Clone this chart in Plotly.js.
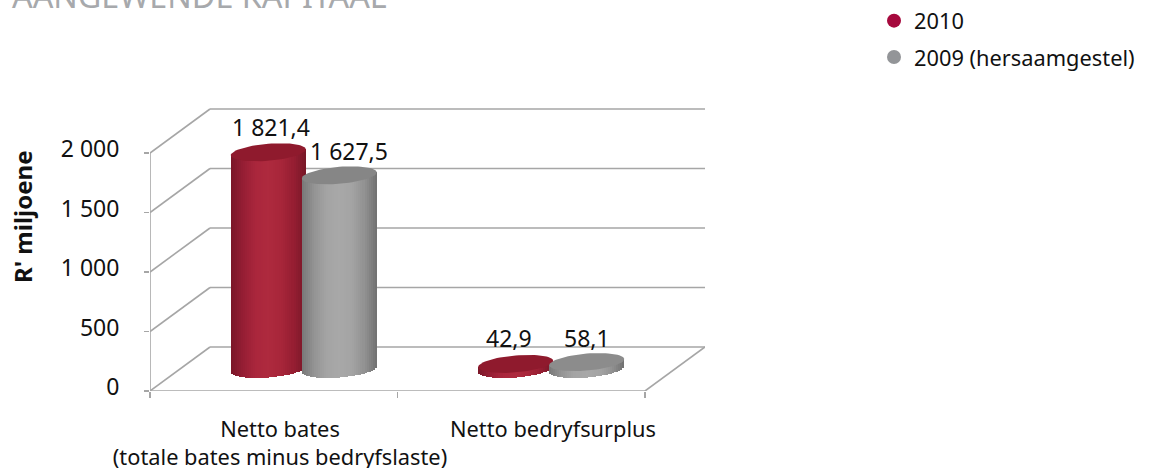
<!DOCTYPE html>
<html><head><meta charset="utf-8">
<script src="https://cdn.plot.ly/plotly-3.0.1.min.js"></script>
<style>html,body{margin:0;padding:0;background:#fff;overflow:hidden}</style>
</head><body><div id="chart" style="width:1151px;height:468px"></div>
<script>
// --- data ---
const categories = ["Netto bates<br>(totale bates minus bedryfslaste)", "Netto bedryfsurplus"];
const seriesNames = ["2010", "2009 (hersaamgestel)"];
const values2010 = [1821.4, 42.9];
const values2009 = [1627.5, 58.1];
const yTicks = [0, 500, 1000, 1500, 2000];
const yTickText = ["0", "500", "1 000", "1 500", "2 000"];

// --- page geometry (px) ---
const W = 1151, H = 468;
const plot = {l: 150, r: 705, t: 107, b: 391};
const pxPerCat = 247.5, pxPerUnit = 0.119;
const depth = {x: 60, y: 44};
const mid = {x: 30, y: 22};
const cyl = {a: 37.5 / pxPerCat, b: 8.5 / pxPerUnit, tilt: 3 / pxPerUnit, off: 0.1434};
const strips = 37;

const xMax = (plot.r - plot.l) / pxPerCat;
const yMax = (plot.b - plot.t) / pxPerUnit;
const dx = depth.x / pxPerCat, dy = depth.y / pxPerUnit;
const mx = mid.x / pxPerCat, my = mid.y / pxPerUnit;

function lerp(a, b, t) { return a.map((v, i) => Math.round(v + (b[i] - v) * t)); }
function shade(stops, u) {
  const p = (u + 1) / 2 * (stops.length - 1);
  const i = Math.min(Math.floor(p), stops.length - 2);
  const c = lerp(stops[i], stops[i + 1], p - i);
  return `rgb(${c[0]},${c[1]},${c[2]})`;
}
const redStops = [[122,22,40],[150,30,52],[170,38,60],[174,42,62],[168,38,58],[150,30,50],[118,22,38]];
const greyStops = [[120,120,120],[148,148,148],[164,164,164],[168,168,168],[164,164,164],[146,146,146],[112,112,112]];

function cylinderBars(vals, sign, stops, name) {
  const x = [], y = [], base = [], color = [];
  vals.forEach((v, c) => {
    for (let i = 0; i < strips; i++) {
      const u = -1 + (2 * i + 1) / strips;
      const b = cyl.tilt * u - cyl.b * Math.sqrt(1 - u * u);
      x.push(c + 0.5 + sign * cyl.off + u * cyl.a);
      base.push(b);
      y.push(v + cyl.tilt * u - b);
      color.push(shade(stops, u));
    }
  });
  return {type: "bar", x, y, base, width: 2 * cyl.a / strips * 1.08, xaxis: "x2", yaxis: "y2",
    marker: {color, line: {width: 0}}, showlegend: false, hoverinfo: "skip", name};
}
function cylinderTop(v, c, sign, color) {
  const x = [], y = [];
  for (let i = 0; i <= 72; i++) {
    const t = i / 72 * 2 * Math.PI;
    x.push(c + 0.5 + sign * cyl.off + Math.cos(t) * cyl.a);
    y.push(v + Math.sin(t) * cyl.b + Math.cos(t) * cyl.tilt);
  }
  return {type: "scatter", mode: "lines", x, y, xaxis: "x2", yaxis: "y2", fill: "toself",
    fillcolor: color, line: {width: 0, color}, showlegend: false, hoverinfo: "skip"};
}
const fmt = v => {
  const [i, d] = v.toFixed(1).split(".");
  return i.replace(/\B(?=(\d{3})+$)/g, " ") + "," + d;
};

const traces = [
  cylinderBars(values2010, -1, redStops, seriesNames[0]),
  cylinderBars(values2009, 1, greyStops, seriesNames[1]),
  cylinderTop(values2010[0], 0, -1, "#8f1a2d"),
  cylinderTop(values2010[1], 1, -1, "#8f1a2d"),
  cylinderTop(values2009[0], 0, 1, "#868686"),
  cylinderTop(values2009[1], 1, 1, "#8c8c8c"),
  {type: "scatter", mode: "markers", x: [null], y: [null], name: seriesNames[0], legendgroup: "a",
   marker: {color: "#a6093d", size: 14, symbol: "circle"}},
  {type: "scatter", mode: "markers", x: [null], y: [null], name: seriesNames[1], legendgroup: "b",
   marker: {color: "#939598", size: 14, symbol: "circle"}},
  // invisible helper so the category labels sit on their own axis
  {type: "scatter", mode: "none", x: [0], y: [0], xaxis: "x3", yaxis: "y", showlegend: false, hoverinfo: "skip"}
];

// --- wall and floor lines ---
const wall = "#a6a6a6";
const ln = (x0, y0, x1, y1) => ({type: "line", xref: "x", yref: "y", x0, y0, x1, y1, layer: "below",
  line: {color: wall, width: 1.6}});
const shapes = [ln(0, 0, 0, 2000), ln(0, 0, 2, 0), ln(2, 0, 2 + dx, dy)];
yTicks.forEach(t => {
  shapes.push(ln(0, t, dx, t + dy));
  shapes.push(ln(dx, t + dy, 2 + dx, t + dy));
});

// --- value labels ---
const labelNudge = {x: [[3, -7], [10, 0]], y: [[25, 26], [24, 24]]};
const annotations = [];
[values2010, values2009].forEach((vals, s) => vals.forEach((v, c) => {
  annotations.push({xref: "x2", yref: "y2", x: c + 0.5 + (s ? 1 : -1) * cyl.off, y: v,
    xshift: labelNudge.x[s][c], yshift: labelNudge.y[s][c], text: fmt(v), showarrow: false,
    xanchor: "center", yanchor: "middle", font: {size: 23, color: "#111"}});
}));
annotations.push({xref: "paper", yref: "paper", x: 22 / W, y: (H - 217) / H, text: "<b>R' miljoene</b>",
  textangle: -90, showarrow: false, xanchor: "center", yanchor: "middle", font: {size: 24, color: "#111"}});

const xDom = [plot.l / W, plot.r / W];
const yDom = [(H - plot.b) / H, (H - plot.t) / H];
const layout = {
  width: W, height: H, margin: {l: 0, r: 0, t: 0, b: 0},
  paper_bgcolor: "#fff", plot_bgcolor: "#fff",
  font: {family: '"Noto Sans", sans-serif', size: 22, color: "#111"},
  title: {text: "AANGEWENDE KAPITAAL<br> ", x: 12 / W, xanchor: "left", xref: "paper", y: 1 - 8 / H, yanchor: "middle",
    font: {size: 32.3, color: "#a7a9ac"}},
  barmode: "overlay", bargap: 0,
  xaxis: {domain: xDom, range: [0, xMax], tickvals: [0, 1, 2], ticktext: ["", "", ""], showgrid: false,
    zeroline: false, showline: false, ticks: "outside", ticklen: 6, tickwidth: 1.5, tickcolor: wall, fixedrange: true},
  yaxis: {domain: yDom, range: [0, yMax], tickvals: yTicks, ticktext: yTickText, showgrid: false,
    zeroline: false, showline: false, ticks: "outside", ticklen: 5, tickwidth: 1.5, tickcolor: wall,
    ticklabelstandoff: 20, ticklabelshift: -4, tickfont: {size: 23}, fixedrange: true},
  xaxis2: {domain: xDom, range: [-mx, xMax - mx], overlaying: "x", anchor: "y2", visible: false, fixedrange: true},
  yaxis2: {domain: yDom, range: [-my, yMax - my], overlaying: "y", anchor: "x2", visible: false, fixedrange: true},
  xaxis3: {domain: xDom, range: [0, xMax], overlaying: "x", anchor: "y", tickvals: [130 / pxPerCat, 403 / pxPerCat],
    ticktext: categories, ticks: "", showgrid: false, zeroline: false, showline: false, ticklabelstandoff: 23,
    tickfont: {size: 21.8}, fixedrange: true},
  legend: {x: 874 / W, xanchor: "left", y: 1, yanchor: "top", traceorder: "grouped", tracegroupgap: 5,
    font: {size: 21.8, color: "#111"}, bgcolor: "rgba(0,0,0,0)"},
  shapes, annotations
};
Plotly.newPlot("chart", traces, layout, {displayModeBar: false, staticPlot: true});
</script></body></html>
